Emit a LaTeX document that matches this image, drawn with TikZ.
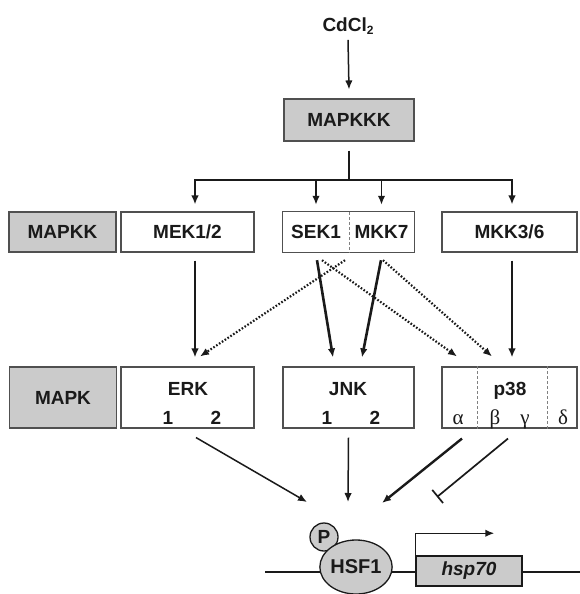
\documentclass[tikz,border=0pt]{standalone}
\usepackage{fontspec}
\setmainfont{Liberation Sans}
\newfontfamily\serifgreek{Liberation Serif}
\usetikzlibrary{arrows.meta,shapes.geometric}
\definecolor{boxgray}{HTML}{505050}
\definecolor{fillgray}{HTML}{CBCBCB}
\definecolor{ink}{HTML}{1A1A1A}
\begin{document}
\begin{tikzpicture}[x=1pt,y=-1pt,
  lbl/.style={font=\fontsize{19}{22}\selectfont\bfseries, text=ink, inner sep=0pt},
  grk/.style={font=\serifgreek\fontsize{21}{22}\selectfont, text=ink, inner sep=0pt, anchor=base},
  boxw/.style={draw=boxgray, line width=1.1pt, fill=white, inner sep=0pt},
  boxg/.style={boxw, fill=fillgray},
  boxline/.style={draw=boxgray, line width=1.1pt},
  divider/.style={draw=gray, line width=0.9pt, dash pattern=on 3pt off 2pt},
  arr/.style={-{Latex[length=9pt,width=7.5pt]}},
  tree/.style={draw=ink, line width=2.2pt},
  droparr/.style={draw=ink, line width=1.7pt, arr},
  solidarr/.style={draw=ink, line width=2.6pt, arr},
  dotarr/.style={draw=ink, line width=2.2pt, dash pattern=on 1.6pt off 1.8pt, arr},
  thinarr/.style={draw=ink, line width=1.5pt, arr}
]
\useasboundingbox (0,0) rectangle (580,594);

% top
\node[lbl] (cd) at (348,26) {CdCl\raisebox{-3.5pt}{\fontsize{12}{12}\selectfont 2}};
\node[boxg,lbl,minimum width=130pt,minimum height=42pt] (mapkkk) at (349,120) {MAPKKK};
\draw[thinarr] ([yshift=-5pt]cd.south) -- ([yshift=9pt]mapkkk.north);

% MAPKK row
\node[boxg,lbl,minimum width=107pt,minimum height=40pt] (mapkk) at (62.5,232) {MAPKK};
\node[boxw,lbl,minimum width=133pt,minimum height=40pt] (mek) at (187.5,232) {MEK1/2};
\node[lbl,minimum width=66pt,minimum height=40pt] (sek) at (316,232) {SEK1};
\node[lbl,minimum width=65pt,minimum height=40pt] (mkk7) at (381.5,232) {MKK7};
\draw[boxline] (sek.north west) rectangle (mkk7.south east);
\draw[divider] (sek.north east) -- (sek.south east);
\node[boxw,lbl,minimum width=135pt,minimum height=40pt] (mkk36) at (509.5,232) {MKK3/6};

% tree
\coordinate (j) at (349,180);
\coordinate (jl) at (195,180);
\coordinate (jr) at (512,180);
\draw[tree] ([yshift=-9pt]mapkkk.south) -- (j);
\draw[tree,line cap=rect] (jl) -- (jr);
\draw[droparr,shorten >=7pt] (jl) -- (jl |- mek.north);
\draw[droparr,shorten >=7pt] (sek.north |- j) -- (sek.north);
\draw[droparr,shorten >=7pt] (mkk7.north |- j) -- (mkk7.north);
\draw[droparr,shorten >=7pt] (jr) -- (jr |- mkk36.north);

% MAPK row
\node[boxg,lbl,minimum width=107pt,minimum height=61pt] (mapk) at (63,397.5) {MAPK};
\node[boxw,minimum width=133pt,minimum height=61pt] (erk) at (187.5,397.5) {};
\node[lbl,anchor=base] (erkt) at (188,395) {ERK};
\node[lbl,anchor=base] (erk1) at (168,424) {1};
\node[lbl,anchor=base] (erk2) at (216,424) {2};
\node[boxw,minimum width=131pt,minimum height=61pt] (jnk) at (348.5,397.5) {};
\node[lbl,anchor=base] (jnkt) at (348,395) {JNK};
\node[lbl,anchor=base] (jnk1) at (327,424) {1};
\node[lbl,anchor=base] (jnk2) at (375,424) {2};
\node[boxw,minimum width=135pt,minimum height=61pt] (p38) at (509.5,397.5) {};
\draw[divider] ([xshift=-32.5pt]p38.north) -- ([xshift=-32.5pt]p38.south);
\draw[divider] ([xshift=37.5pt]p38.north) -- ([xshift=37.5pt]p38.south);
\node[lbl,anchor=base] (p38t) at (510,395) {p38};
\node[grk] (ga) at (458,424) {α};
\node[grk] (gb) at (495,424) {β};
\node[grk] (gg) at (525,424) {γ};
\node[grk] (gd) at (563,424) {δ};

% MAPKK -> MAPK
\draw[solidarr,line width=2.2pt] ([yshift=-8pt]jl |- mek.south) -- ([yshift=9pt]jl |- erk.north);
\draw[solidarr] ([xshift=1pt,yshift=-8pt]sek.south) -- ([xshift=-15.5pt,yshift=9pt]jnk.north);
\draw[solidarr] ([xshift=-0.5pt,yshift=-8pt]mkk7.south) -- ([xshift=13.5pt,yshift=9pt]jnk.north);
\draw[dotarr] ([xshift=6pt,yshift=-8pt]sek.south) -- ([xshift=-52.5pt,yshift=10pt]p38.north);
\draw[dotarr] ([xshift=1.5pt,yshift=-8pt]mkk7.south) -- ([xshift=-17.5pt,yshift=10pt]p38.north);
\draw[dotarr] ([xshift=29pt,yshift=-8pt]sek.south) -- ([xshift=12.5pt,yshift=10pt]erk.north);
\draw[solidarr,line width=2.2pt] ([xshift=2.5pt,yshift=-8pt]mkk36.south) -- ([xshift=2.5pt,yshift=9pt]p38.north);

% DNA and HSF1
\coordinate (dnaL) at (265,572);
\coordinate (dnaR) at (580,572);
\draw[draw=ink,line width=1.4pt] (dnaL) -- (dnaR);
\node[circle,draw=ink,line width=1.3pt,fill=fillgray,minimum size=28pt,inner sep=0pt,lbl,font=\fontsize{19}{22}\selectfont\bfseries] (p) at (324,537) {P};
\node[ellipse,draw=ink,line width=1.3pt,fill=fillgray,minimum width=72pt,minimum height=54pt,inner sep=0pt,lbl,font=\fontsize{20}{22}\selectfont\bfseries] (hsf1) at (356,567) {HSF1};
\node[draw=ink,line width=1.5pt,fill=fillgray,minimum width=106pt,minimum height=30pt,inner sep=0pt,font=\fontsize{19}{22}\selectfont\bfseries\itshape,text=ink] (hsp) at (469,571) {hsp70};
\draw[draw=ink,line width=1.5pt,arr] (hsp.north west) -- ++(0,-22) -- ++(79,0);

% MAPK -> HSF1
\draw[thinarr] ([xshift=8.5pt,yshift=-9pt]erk.south) -- ([xshift=-49pt,yshift=65pt]hsf1.center);
\draw[thinarr] ([yshift=-9pt]jnk.south) -- ([xshift=-8pt,yshift=65pt]hsf1.center);
\draw[thinarr,line width=2.4pt] ([xshift=-47.5pt,yshift=-10pt]p38.south) -- ([xshift=26pt,yshift=64pt]hsf1.center);
\draw[draw=ink,line width=1.7pt,-{Bar[width=17pt]}] ([xshift=-1.5pt,yshift=-10pt]p38.south) -- ([xshift=81pt,yshift=70pt]hsf1.center);
\end{tikzpicture}
\end{document}
